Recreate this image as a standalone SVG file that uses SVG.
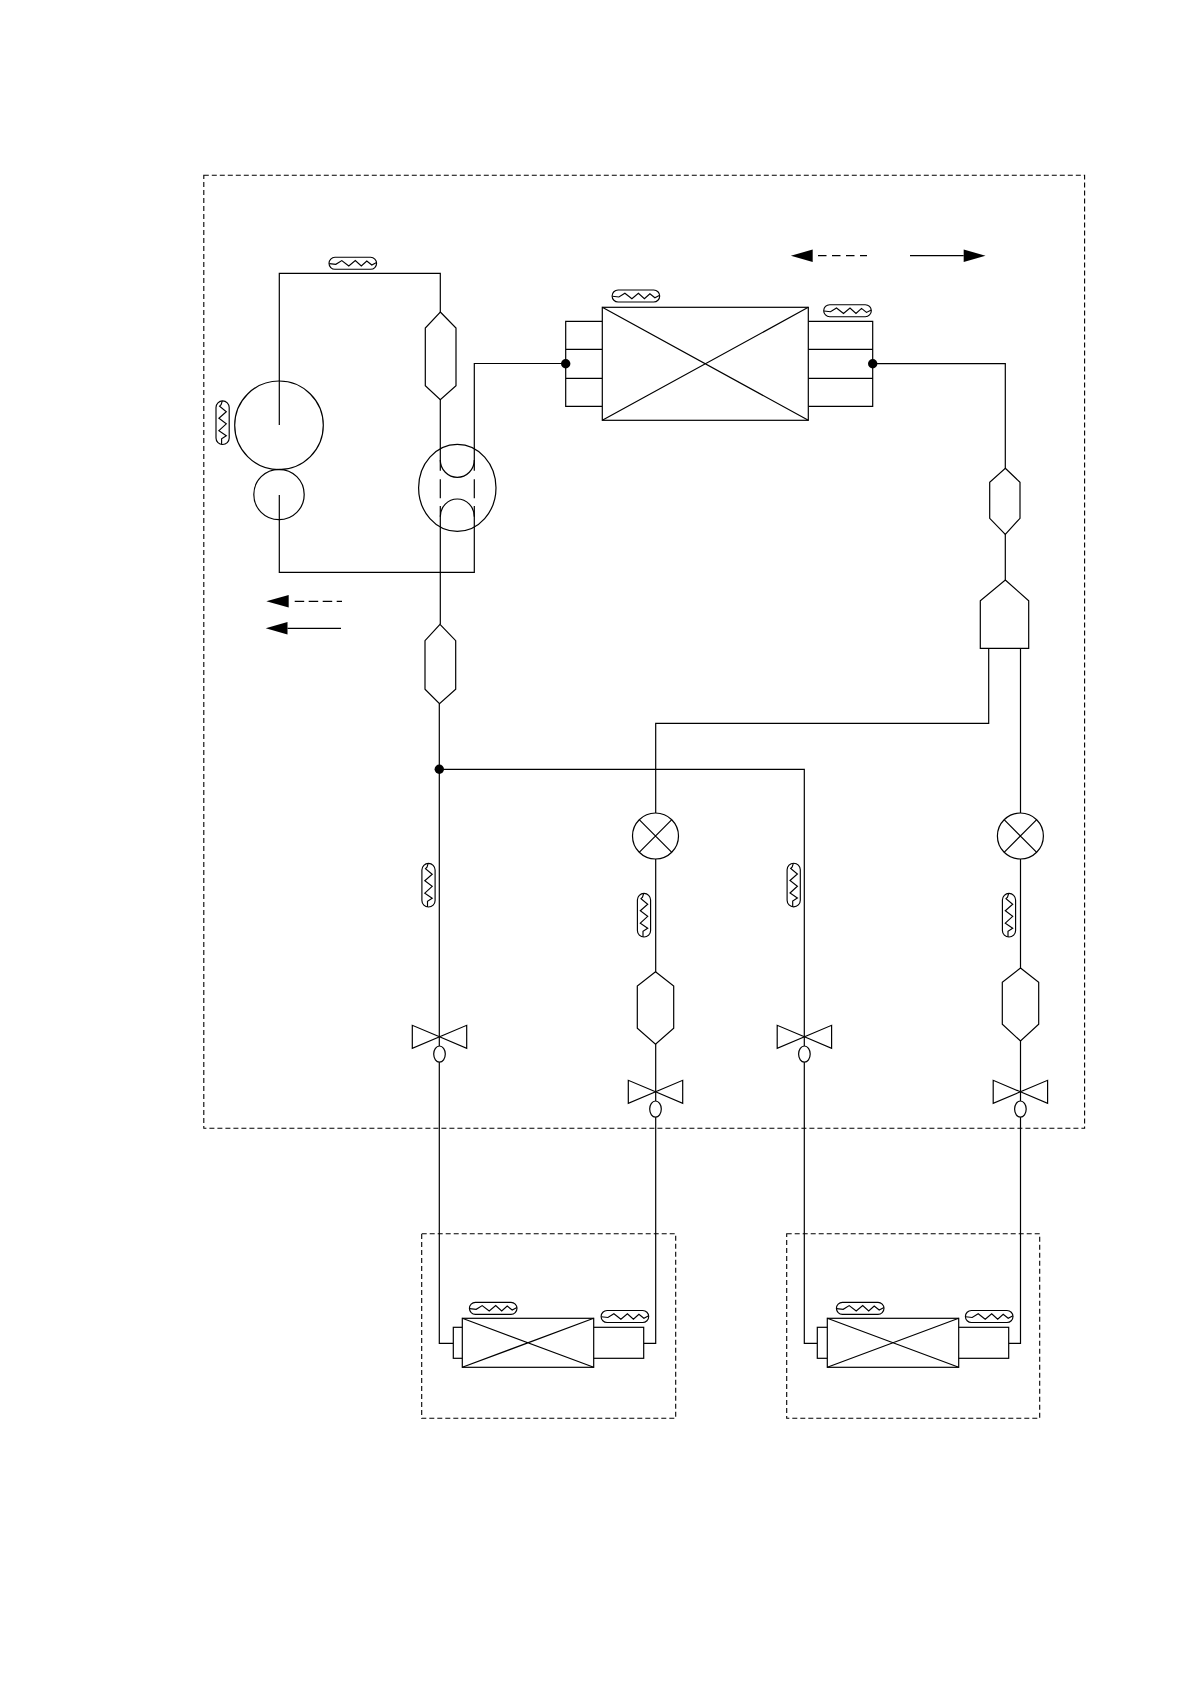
<svg xmlns="http://www.w3.org/2000/svg" xmlns:xlink="http://www.w3.org/1999/xlink" width="1190" height="1684" viewBox="0 0 1190 1684">
<style>
.l{fill:none;stroke:#000;stroke-width:1.2}
.n{fill:#fff;stroke:#000;stroke-width:1.2}
.d{fill:none;stroke:#000;stroke-width:1.1;stroke-dasharray:5 3}
.s{fill:none;stroke:#000;stroke-width:1.15}
.dot{fill:#000}
</style>
<defs>
<marker id="head" markerUnits="userSpaceOnUse" viewBox="-1 -7 24 14" markerWidth="24" markerHeight="14" refX="0" refY="0" orient="auto"><path d="M0 -6.2L21.8 0L0 6.2Z" fill="#000"/></marker>
<marker id="head-gap" markerUnits="userSpaceOnUse" viewBox="-6 -7 29 14" markerWidth="29" markerHeight="14" refX="-5.3" refY="0" orient="auto"><path d="M0 -6.2L22.4 0L0 6.2Z" fill="#000"/></marker>
<g id="sensor-h">
<rect class="s" x="-23.8" y="-6" width="47.6" height="12" rx="6" ry="6"/>
<path class="s" d="M-23.5 0.3L-17 1L-11 -2.7L-4 2.7L2.5 -2.7L8.5 2.7L14 -2.3L19 1.7L23.8 -0.7"/>
</g>
<g id="sensor-v">
<rect class="s" x="-6.6" y="-21.8" width="13.2" height="43.6" rx="6.6" ry="6.6"/>
<path class="s" d="M-0.3 -21.8L-1.5 -18L-3 -16.5L3.7 -11L-3.7 -4.5L3.7 1.2L-3.7 8L3.7 13L-1 16V21.8"/>
</g>
<g id="valve">
<path class="n" d="M0 0L-27.2 -11.5V11.5L27.2 -11.5V11.5Z"/>
<ellipse class="n" cx="0" cy="17.3" rx="5.8" ry="8.1"/>
</g>
<g id="eev">
<circle class="n" cx="0" cy="0" r="23"/>
<path class="l" d="M-16.3 -16.3L16.3 16.3M16.3 -16.3L-16.3 16.3"/>
</g>
</defs>

<g id="connectors">
<path class="l" d="M279.3 425V273.3H440.3V470.7"/>
<path class="l" d="M440.3 479.3V498.3M440.3 506V624.3"/>
<path class="l" d="M565.7 363.5H474.3V470.7"/>
<path class="l" d="M474.3 479.3V498.3M474.3 506V572.3H279.3V495"/>
<path class="l" d="M439.3 703.7V1343.3H453.3"/>
<path class="l" d="M439.3 769.3H804.3V1343.3H817.3"/>
<path class="l" d="M988.7 648.3V723.3H655.7V1343.3H643.7"/>
<path class="l" d="M1020.5 648.3V1343.3H1008.7"/>
<path class="l" d="M872.7 363.7H1005.3V580"/>
<path class="l" d="M602.3 321.3H565.7V406.3H602.3M565.7 349.3H602.3M565.7 378.3H602.3"/>
<path class="l" d="M808.3 321.3H872.7V406.3H808.3M808.3 349.3H872.7M808.3 378.3H872.7"/>
</g>

<g id="frames">
<rect id="outdoor-frame" class="d" x="203.8" y="175.3" width="880.8" height="953"/>
<rect id="indoor-frame-1" class="d" x="421.7" y="1233.7" width="254" height="184.6"/>
<rect id="indoor-frame-2" class="d" x="786.7" y="1233.7" width="253" height="184.6"/>
</g>

<g id="compressor">
<circle class="l" cx="279" cy="425.3" r="44.3"/>
<circle class="l" cx="279" cy="494.5" r="25.2"/>
</g>

<g id="four-way-valve">
<ellipse class="l" cx="457.3" cy="487.8" rx="38.7" ry="43.5"/>
<path class="l" d="M440.3 460A17 17.3 0 0 0 474.3 460M440.3 516.7A17 17.7 0 0 1 474.3 516.7"/>
</g>

<g id="outdoor-coil">
<rect class="n" x="602.3" y="307.3" width="206" height="113"/>
<path class="l" d="M602.3 307.3L808.3 420.3M808.3 307.3L602.3 420.3"/>
</g>

<g id="muffler-1"><path class="n" d="M440.3 312L456 328V385.7L440.3 399.7L425.3 385.7V328Z"/></g>
<g id="muffler-2"><path class="n" d="M440 624.3L455.7 640.7V689.3L439.5 703.7L425 689.3V640.7Z"/></g>
<g id="muffler-3"><path class="n" d="M1005.3 468.3L1020 482.3V518.3L1005.3 534.3L989.7 518.3V482.3Z"/></g>
<g id="distributor"><path class="n" d="M1005.3 580L1028.7 600.7V648.3H980.3V600.7Z"/></g>
<g id="filter-1"><path class="n" d="M655.5 971.7L673.7 986V1028.3L655.5 1044.3L637.3 1028.3V986Z"/></g>
<g id="filter-2"><path class="n" d="M1020.5 968L1038.7 982.3V1024.3L1020.5 1041L1002.3 1024.3V982.3Z"/></g>

<g id="eev-1"><use href="#eev" x="655.5" y="836"/></g>
<g id="eev-2"><use href="#eev" x="1020.4" y="836"/></g>

<g id="valve-1"><use href="#valve" x="439.5" y="1036.8"/></g>
<g id="valve-2"><use href="#valve" x="655.5" y="1091.8"/></g>
<g id="valve-3"><use href="#valve" x="804.4" y="1036.8"/></g>
<g id="valve-4"><use href="#valve" x="1020.4" y="1091.8"/></g>

<g id="indoor-coil-1">
<rect class="n" x="453.3" y="1327.3" width="190.4" height="31"/>
<rect class="n" x="462.3" y="1318.3" width="131.4" height="49"/>
<path class="l" d="M462.3 1318.3L593.7 1367.3M593.7 1318.3L462.3 1367.3"/>
</g>
<g id="indoor-coil-2">
<rect class="n" x="817.3" y="1327.3" width="191.4" height="31"/>
<rect class="n" x="827.3" y="1318.3" width="131.4" height="49"/>
<path class="l" d="M827.3 1318.3L958.7 1367.3M958.7 1318.3L827.3 1367.3"/>
</g>

<g id="sensors">
<use href="#sensor-h" x="352.8" y="263.3"/>
<use href="#sensor-v" x="222.6" y="422.7"/>
<use href="#sensor-h" x="635.9" y="296"/>
<use href="#sensor-h" x="847.5" y="310.7"/>
<use href="#sensor-v" x="428.5" y="885.2"/>
<use href="#sensor-v" x="644" y="915.2"/>
<use href="#sensor-v" x="793.7" y="885"/>
<use href="#sensor-v" x="1009" y="915.2"/>
<use href="#sensor-h" x="493.2" y="1308.3"/>
<use href="#sensor-h" x="624.9" y="1316.5"/>
<use href="#sensor-h" x="860.2" y="1308.3"/>
<use href="#sensor-h" x="989.2" y="1316.5"/>
</g>

<g id="junctions">
<circle class="dot" cx="565.7" cy="363.8" r="4.7"/>
<circle class="dot" cx="872.7" cy="363.8" r="4.7"/>
<circle class="dot" cx="439.3" cy="769.3" r="4.7"/>
</g>

<g id="flow-arrows">
<path class="l" style="stroke-dasharray:9.5 4.5;stroke-dashoffset:4.2" d="M342 601.3H294" marker-end="url(#head-gap)"/>
<path class="l" d="M341 628.3H287.5" marker-end="url(#head)"/>
<path class="l" style="stroke-dasharray:8.5 5.5;stroke-dashoffset:1.5" d="M867 255.7H812.7" marker-end="url(#head)"/>
<path class="l" d="M910 255.7H963.7" marker-end="url(#head)"/>
</g>
</svg>
